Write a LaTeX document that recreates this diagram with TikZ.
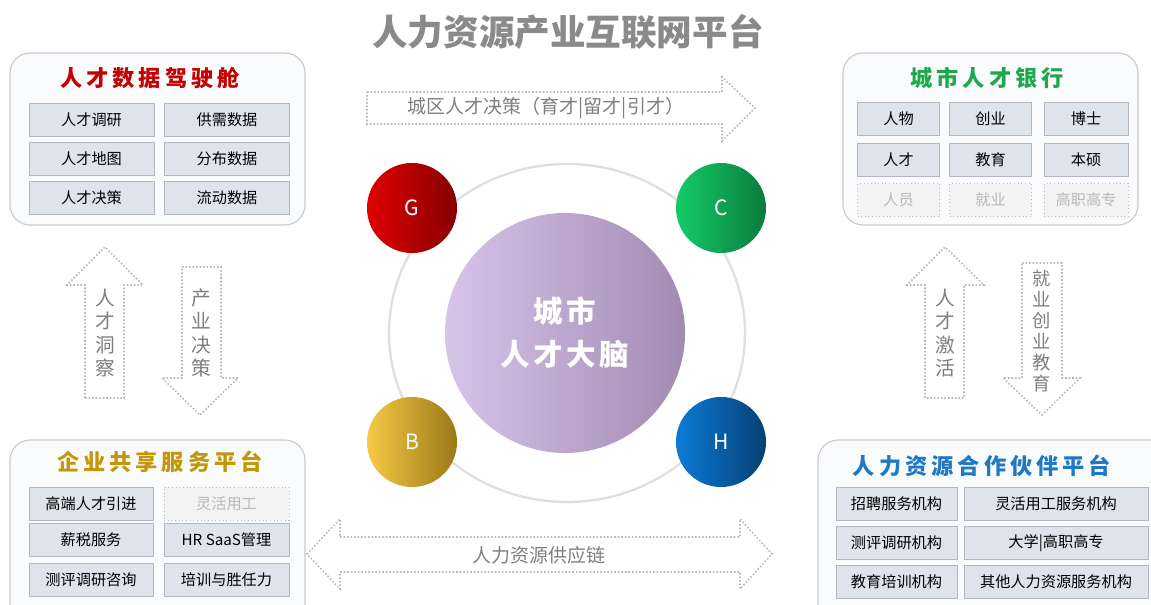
\documentclass[tikz,border=0pt]{standalone}
\usepackage{fontspec}
\setmainfont{Noto Sans CJK SC}
\usetikzlibrary{positioning}

\definecolor{titlegray}{HTML}{8A8A8A}
\definecolor{panelline}{HTML}{C8CACE}
\definecolor{panelfill}{HTML}{FAFBFC}
\definecolor{cellline}{HTML}{B4B8BE}
\definecolor{cellfill}{HTML}{DFE3EA}
\definecolor{ghostfill}{HTML}{F3F3F3}
\definecolor{arrowgray}{HTML}{7F7F7F}
\definecolor{dotgray}{HTML}{B8B8B8}
\definecolor{titlered}{HTML}{C40000}
\definecolor{titlegreen}{HTML}{1EA84C}
\definecolor{titlegold}{HTML}{C4960A}
\definecolor{titleblue}{HTML}{1F78C4}
\definecolor{brainleft}{HTML}{D7C4E9}
\definecolor{brainright}{HTML}{A38AB3}
\definecolor{gleft}{HTML}{E00000}
\definecolor{gright}{HTML}{860000}
\definecolor{cleft}{HTML}{14CC66}
\definecolor{cright}{HTML}{0A7A3E}
\definecolor{bleft}{HTML}{F6CA44}
\definecolor{bright}{HTML}{9A7818}
\definecolor{hleft}{HTML}{0A7CD6}
\definecolor{hright}{HTML}{063F74}

\newcommand\cellfont{\fontsize{10.8}{13}\selectfont}
\newcommand\paneltitlefont{\fontsize{15.8}{18}\selectfont\bfseries\addfontfeature{LetterSpace=18}}

\tikzset{
  panel/.style={draw=panelline, fill=panelfill, line width=0.8pt, rounded corners=0.5cm},
  cell/.style={draw=cellline, fill=cellfill, line width=0.6pt, inner sep=0pt,
    minimum height=33*0.025cm, font=\cellfont},
  ghost/.style={cell, draw=dotgray, dotted, fill=ghostfill, text=gray!55},
  ptitle/.style={font=\paneltitlefont, inner sep=0pt},
  ball/.style={circle, minimum size=2.25cm, inner sep=0pt, text=white,
    font=\fontsize{15}{17}\selectfont},
  dotline/.style={draw=dotgray, line width=1.1pt, dash pattern=on 1.1pt off 1.4pt},
  arrowtext/.style={text=arrowgray, font=\fontsize{13.5}{16}\selectfont, inner sep=0pt},
  vtext/.style={text=arrowgray, align=center, inner sep=0pt}
}

\begin{document}
\begin{tikzpicture}[x=0.025cm,y=-0.025cm]
    \clip (0,0) rectangle (1151,605);
    \fill[white] (0,0) rectangle (1151,605);

    \node[text=titlegray, font=\fontsize{25.3}{30}\selectfont\bfseries] (title) at (568,32) {人力资源产业互联网平台};

    % four platforms
    \draw[panel] (10,53) rectangle (305,225);
    \draw[panel] (843,53) rectangle (1138,225);
    \draw[panel] (10,440) rectangle (305,625);
    \draw[panel] (818,440) rectangle (1175,625);

    \node[ptitle, text=titlered] (cockpit) at (150,78) {人才数据驾驶舱};
    \node[cell, minimum width=125*0.025cm] (d1) at (91.5,120) {人才调研};
    \node[cell, minimum width=125*0.025cm] (d2) at (227,120) {供需数据};
    \node[cell, minimum width=125*0.025cm] (d3) at (91.5,159) {人才地图};
    \node[cell, minimum width=125*0.025cm] (d4) at (227,159) {分布数据};
    \node[cell, minimum width=125*0.025cm] (d5) at (91.5,198) {人才决策};
    \node[cell, minimum width=125*0.025cm] (d6) at (227,198) {流动数据};

    \node[ptitle, text=titlegreen] (bank) at (987,78) {城市人才银行};
    \node[cell, minimum width=82*0.025cm] (k1) at (898.5,119) {人物};
    \node[cell, minimum width=82*0.025cm] (k2) at (990.5,119) {创业};
    \node[cell, minimum width=84*0.025cm] (k3) at (1086,119) {博士};
    \node[cell, minimum width=82*0.025cm] (k4) at (898.5,159.5) {人才};
    \node[cell, minimum width=82*0.025cm] (k5) at (990.5,159.5) {教育};
    \node[cell, minimum width=84*0.025cm] (k6) at (1086,159.5) {本硕};
    \node[ghost, minimum width=82*0.025cm] (k7) at (898.5,200) {人员};
    \node[ghost, minimum width=82*0.025cm] (k8) at (990.5,200) {就业};
    \node[ghost, minimum width=84*0.025cm] (k9) at (1086,200) {高职高专};

    \node[ptitle, text=titlegold] (share) at (160,462) {企业共享服务平台};
    \node[cell, minimum width=124*0.025cm] (s1) at (91,503.5) {高端人才引进};
    \node[ghost, minimum width=125*0.025cm] (s2) at (226.5,503.5) {灵活用工};
    \node[cell, minimum width=124*0.025cm] (s3) at (91,540) {薪税服务};
    \node[cell, minimum width=125*0.025cm] (s4) at (226.5,540) {HR SaaS管理};
    \node[cell, minimum width=124*0.025cm] (s5) at (91,579.5) {测评调研咨询};
    \node[cell, minimum width=125*0.025cm] (s6) at (226.5,579.5) {培训与胜任力};

    \node[ptitle, text=titleblue] (partner) at (982,466) {人力资源合作伙伴平台};
    \node[cell, minimum width=121*0.025cm] (p1) at (896.5,504) {招聘服务机构};
    \node[cell, minimum width=184*0.025cm] (p2) at (1056,504) {灵活用工服务机构};
    \node[cell, minimum width=121*0.025cm] (p3) at (896.5,543) {测评调研机构};
    \node[cell, minimum width=184*0.025cm] (p4) at (1056,543) {大学|高职高专};
    \node[cell, minimum width=121*0.025cm] (p5) at (896.5,582) {教育培训机构};
    \node[cell, minimum width=184*0.025cm] (p6) at (1056,582) {其他人力资源服务机构};

    % centre
    \draw[gray!25, line width=1.6pt] (567,333) ellipse (178 and 169);
    \node[circle, minimum size=6cm, inner sep=0pt, left color=brainleft, right color=brainright,
          text=white, align=center, font=\fontsize{21}{30.5}\selectfont\bfseries\addfontfeature{LetterSpace=12}] (brain) at (565,333) {城市\\人才大脑};
    \node[ball, left color=gleft, right color=gright] (g) at (412,208) {G};
    \node[ball, left color=cleft, right color=cright] (c) at (721,208) {C};
    \node[ball, left color=bleft, right color=bright] (b) at (412,442) {B};
    \node[ball, left color=hleft, right color=hright] (h) at (721,442) {H};

    % block arrows
    \draw[dotline] (367,92) -- (722,92) -- (722,77) -- (755,108) -- (722,141) -- (722,124) -- (367,124) -- cycle;
    \node[arrowtext] (policy) at (546,108) {城区人才决策（育才|留才|引才）};

    \draw[dotline] (340,537) -- (740,537) -- (740,519) -- (772,554) -- (740,589) -- (740,572)
        -- (340,572) -- (340,589) -- (307,554) -- (340,519) -- cycle;
    \node[arrowtext] (supply) at (539,555) {人力资源供应链};

    \draw[dotline] (85,398) -- (85,285) -- (67,285) -- (105,247) -- (143,285) -- (124,285) -- (124,398) -- cycle;
    \node[vtext, font=\fontsize{14}{16.5}\selectfont] (insight) at (105,333) {人\\才\\洞\\察};

    \draw[dotline] (182,267) -- (221,267) -- (221,378) -- (238,378) -- (200,415) -- (162,378) -- (182,378) -- cycle;
    \node[vtext, font=\fontsize{14}{16.5}\selectfont] (industry) at (201,333) {产\\业\\决\\策};

    \draw[dotline] (925,398) -- (925,285) -- (907,285) -- (945,247) -- (984,285) -- (964,285) -- (964,398) -- cycle;
    \node[vtext, font=\fontsize{14}{16.5}\selectfont] (activate) at (945,333) {人\\才\\激\\活};

    \draw[dotline] (1022,263) -- (1062,263) -- (1062,378) -- (1080,378) -- (1042,415) -- (1003,378) -- (1022,378) -- cycle;
    \node[vtext, font=\fontsize{13}{14.9}\selectfont] (employ) at (1042,331) {就\\业\\创\\业\\教\\育};
\end{tikzpicture}
\end{document}
